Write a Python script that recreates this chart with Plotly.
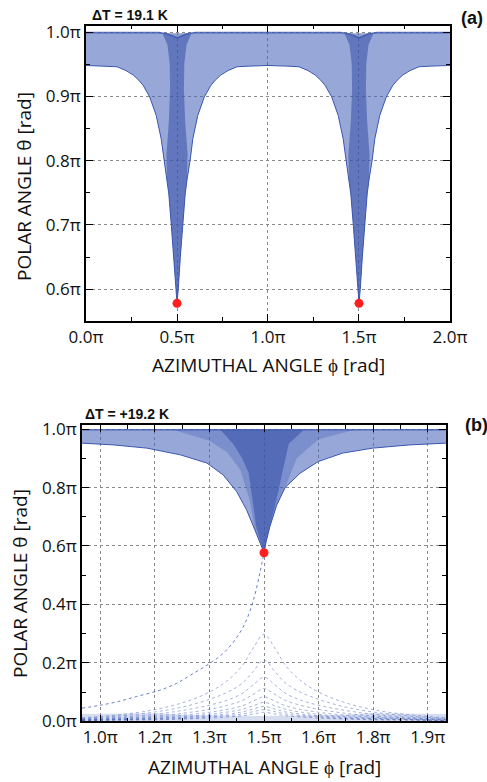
import plotly.graph_objects as go

# ---------------- panel (a) data (angles in units of pi) ----------------
a_env_phi = [0.00, 0.10, 0.17, 0.22, 0.26, 0.29, 0.314, 0.35, 0.386, 0.413, 0.428, 0.445, 0.455,
             0.469, 0.482, 0.493, 0.497, 0.500, 0.503, 0.507, 0.518, 0.531, 0.545, 0.555, 0.572,
             0.587, 0.614, 0.65, 0.686, 0.71, 0.74, 0.78, 0.83, 0.90,
             1.00, 1.10, 1.17, 1.22, 1.26, 1.29, 1.314, 1.35, 1.386, 1.413, 1.428, 1.445, 1.455,
             1.469, 1.482, 1.493, 1.497, 1.500, 1.503, 1.507, 1.518, 1.531, 1.545, 1.555, 1.572,
             1.587, 1.614, 1.65, 1.686, 1.71, 1.74, 1.78, 1.83, 1.90, 2.00]
a_env_theta = [0.948, 0.947, 0.946, 0.940, 0.933, 0.925, 0.917, 0.899, 0.870, 0.834, 0.800, 0.770, 0.748,
               0.699, 0.649, 0.600, 0.588, 0.578, 0.588, 0.600, 0.649, 0.699, 0.748, 0.770, 0.800,
               0.834, 0.870, 0.899, 0.917, 0.925, 0.933, 0.940, 0.946, 0.947,
               0.948, 0.947, 0.946, 0.940, 0.933, 0.925, 0.917, 0.899, 0.870, 0.834, 0.800, 0.770, 0.748,
               0.699, 0.649, 0.600, 0.588, 0.578, 0.588, 0.600, 0.649, 0.699, 0.748, 0.770, 0.800,
               0.834, 0.870, 0.899, 0.917, 0.925, 0.933, 0.940, 0.946, 0.947, 0.948]
a_top_phi = [0.00, 0.40, 0.45, 0.48, 0.50, 0.52, 0.55, 0.60, 1.40, 1.45, 1.48, 1.50, 1.52, 1.55, 1.60, 2.00]
a_top_theta = [0.999, 0.999, 0.997, 0.993, 0.991, 0.993, 0.997, 0.999, 0.999, 0.997, 0.993, 0.991, 0.993, 0.997, 0.999, 0.999]
a_core1_phi = [0.42, 0.448, 0.460, 0.462, 0.455, 0.442, 0.445, 0.455, 0.469, 0.482, 0.493, 0.500,
               0.507, 0.518, 0.531, 0.545, 0.555, 0.558, 0.545, 0.538, 0.540, 0.552, 0.58]
a_core1_theta = [0.998, 0.980, 0.950, 0.910, 0.860, 0.810, 0.770, 0.748, 0.699, 0.649, 0.600, 0.578,
                 0.600, 0.649, 0.699, 0.748, 0.770, 0.810, 0.860, 0.910, 0.950, 0.980, 0.998]
a_core2_phi = [1.42, 1.448, 1.460, 1.462, 1.455, 1.442, 1.445, 1.455, 1.469, 1.482, 1.493, 1.500,
               1.507, 1.518, 1.531, 1.545, 1.555, 1.558, 1.545, 1.538, 1.540, 1.552, 1.58]
a_core2_theta = a_core1_theta
a_red_phi = [0.5, 1.5]
a_red_theta = [0.578, 0.578]

# ---------------- panel (b) data ----------------
b_env_phi = [1.00, 1.087, 1.178, 1.27, 1.343, 1.388, 1.425, 1.452, 1.475, 1.494, 1.500,
             1.506, 1.516, 1.535, 1.558, 1.599, 1.649, 1.716, 1.799, 1.90, 2.00]
b_env_theta = [0.952, 0.946, 0.935, 0.912, 0.884, 0.843, 0.786, 0.724, 0.655, 0.598, 0.577,
               0.615, 0.666, 0.740, 0.800, 0.849, 0.889, 0.918, 0.935, 0.946, 0.952]
b_top_phi = [1.00, 2.00]
b_top_theta = [0.998, 0.998]
b_mid_phi = [1.25, 1.35, 1.40, 1.435, 1.46, 1.475, 1.494, 1.500, 1.506, 1.516, 1.535, 1.558, 1.59, 1.65, 1.75]
b_mid_theta = [0.998, 0.960, 0.920, 0.860, 0.760, 0.655, 0.598, 0.577, 0.615, 0.666, 0.740, 0.800, 0.900, 0.965, 0.998]
b_core_phi = [1.38, 1.415, 1.440, 1.458, 1.466, 1.478, 1.494, 1.500, 1.506, 1.516, 1.528, 1.540, 1.550, 1.568, 1.61]
b_core_theta = [0.998, 0.950, 0.900, 0.850, 0.780, 0.670, 0.598, 0.577, 0.615, 0.666, 0.720, 0.790, 0.850, 0.950, 0.998]
b_desc_phi = [1.00, 1.05, 1.10, 1.15, 1.215, 1.26, 1.306, 1.352, 1.388, 1.42, 1.448, 1.471, 1.4885, 1.50]
b_desc_theta = [0.045, 0.055, 0.068, 0.085, 0.107, 0.130, 0.164, 0.199, 0.233, 0.278, 0.336, 0.415, 0.507, 0.577]
bell_phi = [1.00, 1.10, 1.20, 1.28, 1.35, 1.40, 1.44, 1.47, 1.50, 1.53, 1.56, 1.60, 1.65, 1.72, 1.80, 1.90, 2.00]
bell_1 = [0.012, 0.022, 0.040, 0.065, 0.100, 0.140, 0.190, 0.250, 0.298, 0.250, 0.190, 0.140, 0.100, 0.065, 0.040, 0.022, 0.012]
bell_2 = [0.010, 0.018, 0.032, 0.050, 0.075, 0.100, 0.130, 0.170, 0.210, 0.170, 0.130, 0.100, 0.075, 0.050, 0.032, 0.018, 0.010]
bell_3 = [0.008, 0.014, 0.024, 0.038, 0.055, 0.073, 0.095, 0.125, 0.151, 0.125, 0.095, 0.073, 0.055, 0.038, 0.024, 0.014, 0.008]
bell_4 = [0.006, 0.011, 0.018, 0.028, 0.041, 0.055, 0.071, 0.092, 0.112, 0.092, 0.071, 0.055, 0.041, 0.028, 0.018, 0.011, 0.006]
bell_5 = [0.005, 0.009, 0.014, 0.021, 0.031, 0.041, 0.053, 0.069, 0.084, 0.069, 0.053, 0.041, 0.031, 0.021, 0.014, 0.009, 0.005]
bell_6 = [0.004, 0.007, 0.011, 0.016, 0.024, 0.032, 0.041, 0.053, 0.065, 0.053, 0.041, 0.032, 0.024, 0.016, 0.011, 0.007, 0.004]
bell_7 = [0.003, 0.006, 0.009, 0.013, 0.019, 0.025, 0.032, 0.042, 0.051, 0.042, 0.032, 0.025, 0.019, 0.013, 0.009, 0.006, 0.003]
bell_8 = [0.003, 0.005, 0.007, 0.010, 0.015, 0.020, 0.025, 0.033, 0.040, 0.033, 0.025, 0.020, 0.015, 0.010, 0.007, 0.005, 0.003]
bell_9 = [0.002, 0.004, 0.005, 0.008, 0.011, 0.015, 0.019, 0.025, 0.031, 0.025, 0.019, 0.015, 0.011, 0.008, 0.005, 0.004, 0.002]
bells = [bell_1, bell_2, bell_3, bell_4, bell_5, bell_6, bell_7, bell_8, bell_9]
b_floor_phi = [1.00, 1.20, 1.30, 1.40, 1.50, 1.60, 1.70, 1.80, 2.00]
b_floor_theta = [0.025, 0.028, 0.022, 0.020, 0.018, 0.020, 0.022, 0.028, 0.025]
b_red_phi = [1.5]
b_red_theta = [0.577]

# ---------------- tick labels ----------------
a_xticks = [0.0, 0.5, 1.0, 1.5, 2.0]
a_xlabels = ["0.0π", "0.5π", "1.0π", "1.5π", "2.0π"]
a_yticks = [0.6, 0.7, 0.8, 0.9, 1.0]
a_ylabels = ["0.6π", "0.7π", "0.8π", "0.9π", "1.0π"]
b_xticks = [1.05, 1.20, 1.35, 1.50, 1.65, 1.80, 1.95]
b_xlabels = ["1.0π", "1.2π", "1.3π", "1.5π", "1.6π", "1.8π", "1.9π"]
b_yticks = [0.0, 0.2, 0.4, 0.6, 0.8, 1.0]
b_ylabels = ["0.0π", "0.2π", "0.4π", "0.6π", "0.8π", "1.0π"]

FIELD = "rgba(70,98,186,0.56)"
MID = "rgba(60,88,178,0.30)"
CORE = "rgba(52,78,168,0.55)"
DOT = "rgb(58,86,176)"
RED = "#ff1f1f"

fig = go.Figure()


def poly(xs_low, ys_low, xs_up, ys_up, color, xa, ya):
    fig.add_trace(go.Scatter(x=list(xs_low) + list(xs_up)[::-1], y=list(ys_low) + list(ys_up)[::-1],
                             fill="toself", fillcolor=color, mode="lines", line=dict(width=0),
                             hoverinfo="skip", showlegend=False, xaxis=xa, yaxis=ya))


def shape(xs, ys, color, xa, ya):
    fig.add_trace(go.Scatter(x=xs, y=ys, fill="toself", fillcolor=color, mode="lines", line=dict(width=0),
                             hoverinfo="skip", showlegend=False, xaxis=xa, yaxis=ya))


def curve(xs, ys, color, width, xa, ya, dash="solid", spline=False):
    fig.add_trace(go.Scatter(x=xs, y=ys, mode="lines", line=dict(color=color, width=width, dash=dash),
                             line_shape="spline" if spline else "linear",
                             hoverinfo="skip", showlegend=False, xaxis=xa, yaxis=ya))


# panel (a)
poly(a_env_phi, a_env_theta, a_top_phi, a_top_theta, FIELD, "x", "y")
shape(a_core1_phi, a_core1_theta, CORE, "x", "y")
shape(a_core2_phi, a_core2_theta, CORE, "x", "y")
curve(a_env_phi, a_env_theta, DOT, 1, "x", "y")
curve(a_top_phi, a_top_theta, "rgba(58,86,176,0.8)", 1.6, "x", "y")
fig.add_trace(go.Scatter(x=a_red_phi, y=a_red_theta, mode="markers", marker=dict(color=RED, size=9),
                         hoverinfo="skip", showlegend=False, xaxis="x", yaxis="y"))

# panel (b)
poly(b_env_phi, b_env_theta, b_top_phi, b_top_theta, FIELD, "x2", "y2")
shape(b_mid_phi, b_mid_theta, MID, "x2", "y2")
shape(b_core_phi, b_core_theta, CORE, "x2", "y2")
curve(b_env_phi, b_env_theta, DOT, 1, "x2", "y2")
curve(b_top_phi, b_top_theta, "rgba(58,86,176,0.8)", 1.6, "x2", "y2")
poly(b_floor_phi, [0] * len(b_floor_phi), b_floor_phi, b_floor_theta, "rgba(70,98,186,0.22)", "x2", "y2")
curve(b_desc_phi, b_desc_theta, "rgba(58,86,176,0.75)", 1, "x2", "y2", dash="dot", spline=True)
for bl in bells:
    curve(bell_phi, bl, "rgba(58,86,176,0.5)", 0.9, "x2", "y2", dash="dot", spline=True)
fig.add_trace(go.Scatter(x=b_red_phi, y=b_red_theta, mode="markers", marker=dict(color=RED, size=9),
                         hoverinfo="skip", showlegend=False, xaxis="x2", yaxis="y2"))

TICKFONT = dict(family="Open Sans", size=17, color="#111")


def ax(domain, rng, tv, tt, minor_vals, anchor):
    return dict(domain=domain, range=rng, tickmode="array", tickvals=tv, ticktext=tt, automargin=False,
                ticks="inside", ticklen=7, tickwidth=1.2, tickcolor="black", mirror="allticks",
                showline=True, linecolor="black", linewidth=1.5, showgrid=True, gridcolor="#8a8a8a",
                griddash="dot", gridwidth=1, zeroline=False, tickfont=TICKFONT, anchor=anchor,
                minor=dict(tickvals=minor_vals, ticks="inside", ticklen=4, tickwidth=1.2,
                           tickcolor="black", showgrid=False))


fig.update_layout(
    width=487, height=782, margin=dict(l=0, r=0, t=0, b=0, autoexpand=False),
    paper_bgcolor="white", plot_bgcolor="white", showlegend=False,
    xaxis=ax([0.1766, 0.924], [0, 2], a_xticks, a_xlabels, [0.25, 0.75, 1.25, 1.75], "y"),
    yaxis=ax([0.5899, 0.9671], [0.551, 1.0098], a_yticks, a_ylabels, [0.65, 0.75, 0.85, 0.95], "x"),
    xaxis2=ax([0.1684, 0.9158], [1.0, 2.0], b_xticks, b_xlabels,
              [1.125, 1.275, 1.425, 1.575, 1.725, 1.875], "y2"),
    yaxis2=ax([0.0776, 0.4561], [0, 1.013], b_yticks, b_ylabels, [0.1, 0.3, 0.5, 0.7, 0.9], "x2"),
)

TITLEFONT = dict(family="Open Sans", size=19, color="#111")
BOLD = dict(family="Liberation Sans", size=14, color="#111")
ann = [
    dict(text="AZIMUTHAL ANGLE ϕ [rad]", x=268 / 487, y=1 - 365 / 782, font=TITLEFONT),
    dict(text="AZIMUTHAL ANGLE ϕ [rad]", x=264 / 487, y=1 - 767 / 782, font=TITLEFONT),
    dict(text="POLAR ANGLE θ [rad]", x=24 / 487, y=1 - 187 / 782, font=TITLEFONT, textangle=-90),
    dict(text="POLAR ANGLE θ [rad]", x=20 / 487, y=1 - 584 / 782, font=TITLEFONT, textangle=-90),
    dict(text="<b>ΔT = 19.1 K</b>", x=90 / 487, y=1 - 15 / 782, font=BOLD, xanchor="left"),
    dict(text="<b>ΔT = +19.2 K</b>", x=83 / 487, y=1 - 414 / 782, font=BOLD, xanchor="left"),
    dict(text="<b>(a)</b>", x=459 / 487, y=1 - 18 / 782,
         font=dict(family="Liberation Sans", size=18, color="#111"), xanchor="left"),
    dict(text="<b>(b)</b>", x=463 / 487, y=1 - 425 / 782,
         font=dict(family="Liberation Sans", size=18, color="#111"), xanchor="left"),
]
for a in ann:
    a.setdefault("xanchor", "center")
    fig.add_annotation(xref="paper", yref="paper", showarrow=False, yanchor="middle", **a)

fig.write_html("out.html", config={"displayModeBar": False},
               post_script="document.body.style.margin='0';document.body.style.overflow='hidden';")
